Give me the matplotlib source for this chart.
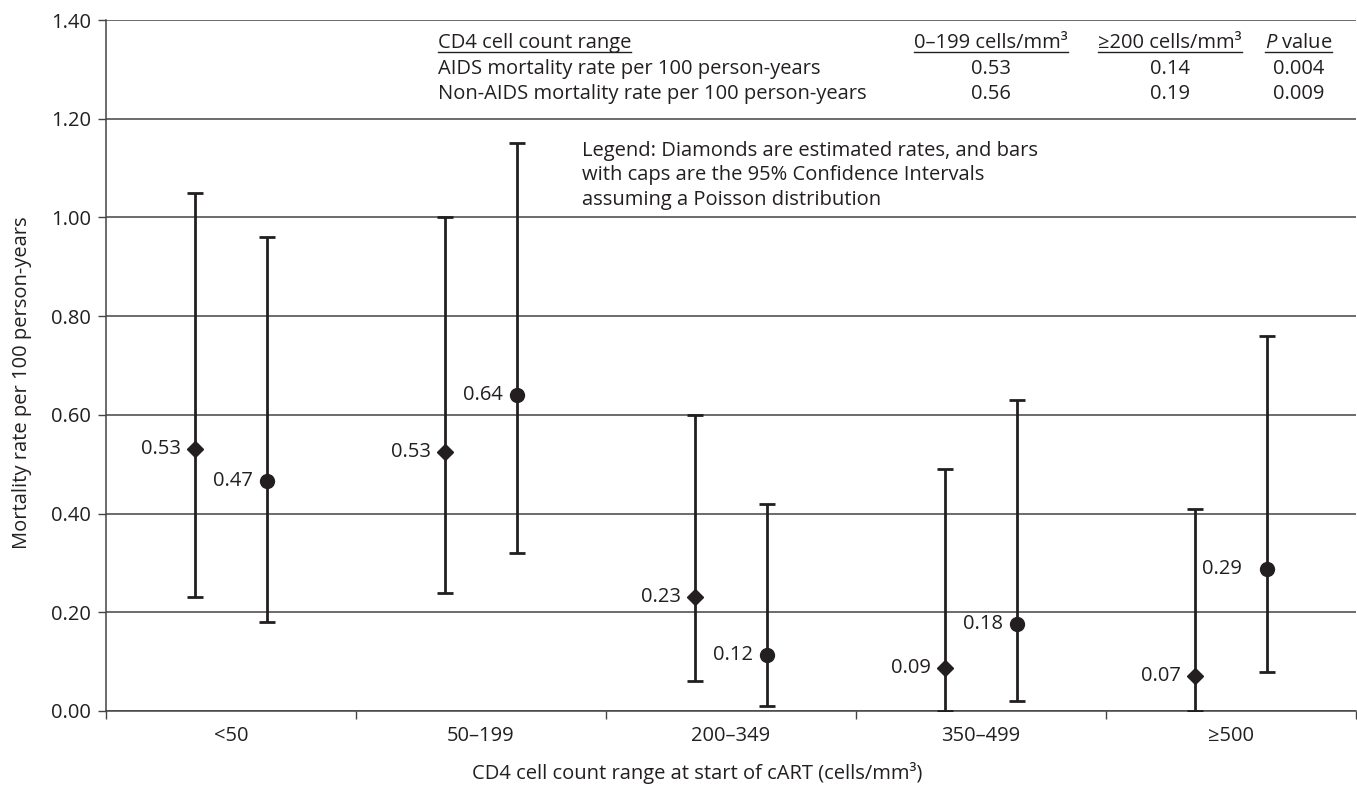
import matplotlib
matplotlib.use('Agg')
import matplotlib.pyplot as plt
import numpy as np

# data
categories = ['<50', '50–199', '200–349', '350–499', '≥500']
aids_rate = [0.53, 0.525, 0.23, 0.088, 0.07]
aids_lo = [0.23, 0.24, 0.06, 0.0, 0.0]
aids_hi = [1.05, 1.00, 0.60, 0.49, 0.41]
aids_lbl = ['0.53', '0.53', '0.23', '0.09', '0.07']
non_rate = [0.466, 0.64, 0.114, 0.176, 0.288]
non_lo = [0.18, 0.32, 0.01, 0.02, 0.08]
non_hi = [0.96, 1.15, 0.42, 0.63, 0.76]
non_lbl = ['0.47', '0.64', '0.12', '0.18', '0.29']

tbl_header = ['CD4 cell count range', '0–199 cells/mm³', '≥200 cells/mm³', '$\\it{P}$ value']
tbl_rows = [['AIDS mortality rate per 100 person-years', '0.53', '0.14', '0.004'],
            ['Non-AIDS mortality rate per 100 person-years', '0.56', '0.19', '0.009']]

plt.rcParams['font.family'] = ['Open Sans', 'DejaVu Sans']
plt.rcParams['mathtext.fontset'] = 'custom'
plt.rcParams['mathtext.it'] = 'Open Sans:italic'
plt.rcParams['mathtext.rm'] = 'Open Sans'
ink = '#231f20'
fs = 14.5

fig = plt.figure(figsize=(13.57, 7.85), dpi=100)
ax = fig.add_axes([106/1357, 74/785, 1250/1357, 691/785])

x = np.arange(len(categories))
off = 0.144
ya = np.array(aids_rate)
yn = np.array(non_rate)
ax.errorbar(x - off, ya, yerr=[ya - np.array(aids_lo), np.array(aids_hi) - ya],
            fmt='D', ms=8, color=ink, ecolor=ink, elinewidth=2, capsize=5.5, capthick=2, zorder=3)
ax.errorbar(x + off, yn, yerr=[yn - np.array(non_lo), np.array(non_hi) - yn],
            fmt='o', ms=10, color=ink, ecolor=ink, elinewidth=2, capsize=5.5, capthick=2, zorder=3)

for i in range(len(categories)):
    ax.annotate(aids_lbl[i], (x[i] - off, ya[i]), xytext=(-10, 0), textcoords='offset points',
                ha='right', va='center', fontsize=fs, color=ink)
    # last label sits a bit further off its marker in the original
    dx = -18 if i == len(categories) - 1 else -10
    ax.annotate(non_lbl[i], (x[i] + off, yn[i]), xytext=(dx, 0), textcoords='offset points',
                ha='right', va='center', fontsize=fs, color=ink)

ax.set_xlim(-0.5, len(categories) - 0.5)
ax.set_ylim(0, 1.4)
ax.set_yticks(np.arange(0, 1.41, 0.2))
ax.set_yticklabels(['%.2f' % v for v in np.arange(0, 1.41, 0.2)], fontsize=fs, color=ink)
ax.yaxis.grid(True, color='#444444', linewidth=1.1)
ax.set_axisbelow(True)
ax.tick_params(axis='y', length=6, width=1, pad=5, color='#444444')

ax.set_xticks(np.arange(-0.5, len(categories), 1.0))
ax.set_xticklabels([])
ax.set_xticks(x, minor=True)
ax.set_xticklabels(categories, minor=True, fontsize=fs, color=ink)
ax.tick_params(axis='x', which='major', length=6, width=1, color='#444444')
ax.tick_params(axis='x', which='minor', length=0, pad=11)

for s in ['top', 'right']:
    ax.spines[s].set_visible(False)
for s in ['left', 'bottom']:
    ax.spines[s].set_color('#444444')
    ax.spines[s].set_linewidth(1.1)

ax.set_xlabel('CD4 cell count range at start of cART (cells/mm³)', fontsize=fs, color=ink, va='center')
ax.xaxis.set_label_coords(0.473, -0.0897)
ax.set_ylabel('Mortality rate per 100 person-years', fontsize=fs, color=ink, va='center')
ax.yaxis.set_label_coords(-0.067, 0.475)

# table at the top
col_x = [0.2656, 0.708, 0.851, 0.954]
row_y = [0.967, 0.929, 0.893]
hdr = []
for j, h in enumerate(tbl_header):
    t = ax.text(col_x[j], row_y[0], h, transform=ax.transAxes, fontsize=fs, color=ink,
                ha='left' if j == 0 else 'center', va='center')
    hdr.append(t)
for r, row in enumerate(tbl_rows):
    for j, v in enumerate(row):
        ax.text(col_x[j], row_y[r + 1], v, transform=ax.transAxes, fontsize=fs, color=ink,
                ha='left' if j == 0 else 'center', va='center')

# underline the headers
fig.canvas.draw()
rend = fig.canvas.get_renderer()
inv = ax.transAxes.inverted()
for t in hdr:
    bb = t.get_window_extent(rend)
    (x0, _), (x1, _) = inv.transform([[bb.x0, 0], [bb.x1, 0]])
    ax.plot([x0, x1], [0.9535, 0.9535], transform=ax.transAxes, color=ink, lw=1, clip_on=False)

ax.text(0.381, 0.825, 'Legend: Diamonds are estimated rates, and bars\n'
        'with caps are the 95% Confidence Intervals\nassuming a Poisson distribution',
        transform=ax.transAxes, fontsize=fs, color=ink, ha='left', va='top', linespacing=1.3)

fig.savefig('out.png', dpi=100)
